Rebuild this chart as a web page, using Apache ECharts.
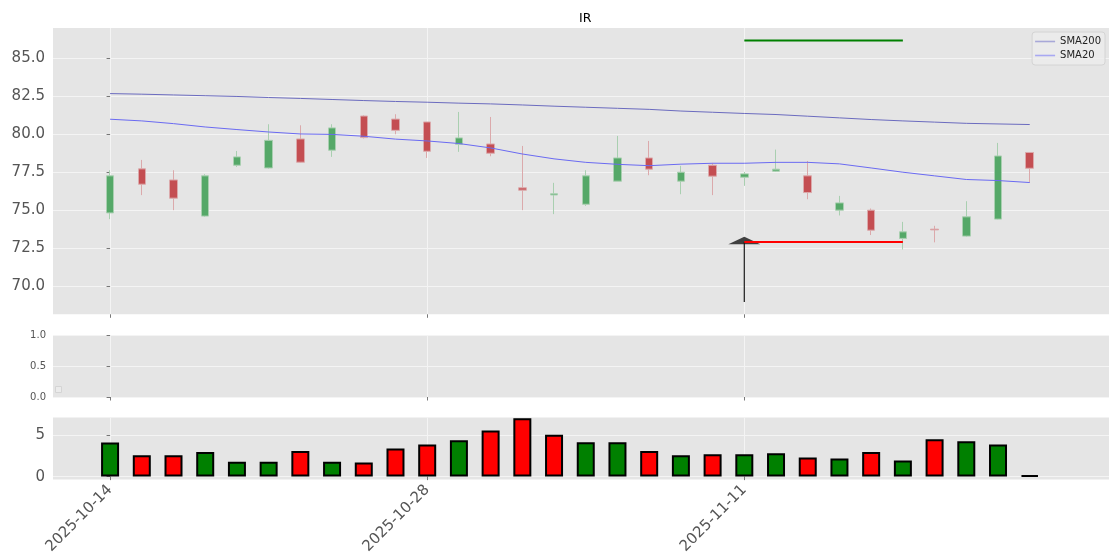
<!DOCTYPE html>
<html><head><meta charset="utf-8">
<script src="https://cdn.jsdelivr.net/npm/echarts@6/dist/echarts.min.js"></script>
<style>html,body{margin:0;padding:0;background:#fff}#c{width:1120px;height:560px}</style>
</head><body><div id="c"></div>
<script>
const dates = ['2025-10-14','2025-10-15','2025-10-16','2025-10-17','2025-10-20','2025-10-21','2025-10-22','2025-10-23','2025-10-24','2025-10-27',
  '2025-10-28','2025-10-29','2025-10-30','2025-10-31','2025-11-03','2025-11-04','2025-11-05','2025-11-06','2025-11-07','2025-11-10',
  '2025-11-11','2025-11-12','2025-11-13','2025-11-14','2025-11-17','2025-11-18','2025-11-19','2025-11-20','2025-11-21','2025-11-24'];
const opens  = [74.82,77.72,76.99,74.61,77.96,77.78,79.69,78.95,81.20,81.00, 80.81,79.34,79.36,76.47,76.00,75.39,76.91,78.44,76.91,77.96, 77.17,77.57,77.26,75.00,75.00,73.14,73.75,73.29,74.41,78.80];
const closes = [77.26,76.71,75.79,77.26,78.51,79.60,78.16,80.42,79.78,80.26, 78.88,79.76,78.75,76.32,76.08,77.26,78.44,77.70,77.50,77.24, 77.39,77.70,76.16,75.48,73.68,73.57,73.70,74.56,78.57,77.76];
const lows   = [74.41,75.99,75.00,74.56,77.85,77.74,78.11,78.51,79.72,80.00, 78.44,78.84,78.55,75.00,74.74,75.28,76.91,77.30,76.05,75.99, 76.60,77.52,75.72,74.65,73.36,72.41,72.88,73.25,74.39,76.82];
const highs  = [77.63,78.31,77.63,77.37,78.90,80.66,80.59,80.66,81.25,81.32, 80.81,81.47,81.14,79.23,76.80,77.63,79.89,79.56,77.92,78.11, 77.52,78.99,78.24,75.94,75.11,74.23,73.97,75.59,79.43,78.80];
const sma200 = [82.68,82.64,82.59,82.54,82.49,82.42,82.36,82.29,82.22,82.16, 82.11,82.05,82.00,81.93,81.85,81.78,81.71,81.64,81.53,81.45, 81.37,81.30,81.19,81.08,80.97,80.88,80.80,80.72,80.68,80.64];
const sma20  = [80.99,80.88,80.70,80.48,80.31,80.15,80.02,79.99,79.87,79.68, 79.56,79.39,79.10,78.70,78.38,78.15,78.02,77.93,78.03,78.09, 78.09,78.15,78.15,78.05,77.78,77.50,77.26,77.02,76.95,76.82];
const volumes = [4.15,2.60,2.60,3.00,1.82,1.82,3.12,1.82,1.70,3.42, 3.90,4.43,5.60,7.08,5.08,4.16,4.16,3.12,2.60,2.72, 2.72,2.85,2.33,2.20,2.98,1.95,4.55,4.29,3.90,0.18];
const volUp = [1,0,0,1,1,1,0,1,0,0, 0,1,0,0,0,1,1,0,1,0, 1,1,0,1,0,1,0,1,1,0];
const xTicks = [0,10,20];
const priceTicks = [70,72.5,75,77.5,80,82.5,85];
const volTicks = [0,5];
const signalIdx = 20, targetEndIdx = 25;
const targetPrice = 86.18, stopPrice = 72.91, arrowFrom = 68.95;

const TXT = '#555555', FONT = 'DejaVu Sans';
const chart = echarts.init(document.getElementById('c'), null, {renderer:'canvas'});
const grids = [
  {left:53, top:28, width:1056, height:286.3},
  {left:53, top:335, width:1056, height:62},
  {left:53, top:417.5, width:1056, height:62}
].map(g => Object.assign(g, {show:true, backgroundColor:'#e5e5e5', borderWidth:0, containLabel:false}));

function xAxis(i, labels){
  return {type:'value', gridIndex:i, min:-1.8, max:31.5,
    axisLine:{show:false},
    axisTick:{show:true, customValues:xTicks, length:3.5, lineStyle:{color:TXT, width:0.8}},
    axisLabel:{show:labels, customValues:xTicks, rotate:45, fontSize:15, color:TXT, fontFamily:FONT, margin:8,
      formatter:v => dates[Math.round(v)] || ''},
    splitLine:{show:true, lineStyle:{color:'#f4f4f4', width:1}}};
}
const option = {
  animation:false,
  backgroundColor:'#ffffff',
  title:{text:'IR', left:574, top:7, textStyle:{fontSize:12.5, fontWeight:'normal', color:'#000', fontFamily:FONT}},
  legend:{data:[{name:'SMA200', itemStyle:{color:'#a8a8d8'}}, {name:'SMA20', itemStyle:{color:'#a8a8f2'}}],
    orient:'vertical', right:15, top:32, icon:'rect', itemWidth:20, itemHeight:1.6, itemGap:3,
    backgroundColor:'rgba(236,236,236,0.8)', borderColor:'#d4d4d4', borderWidth:1, borderRadius:3, padding:[4,4,4,3],
    textStyle:{fontSize:10, color:'#222', fontFamily:FONT, lineHeight:11}},
  grid:grids,
  xAxis:[xAxis(0,false), xAxis(1,false), xAxis(2,true)],
  yAxis:[
    {type:'value', gridIndex:0, min:68.14, max:87.0, axisLine:{show:false},
     axisTick:{show:true, customValues:priceTicks, length:3.5, lineStyle:{color:TXT, width:0.8}},
     axisLabel:{customValues:priceTicks, fontSize:15, color:TXT, fontFamily:FONT, margin:8, formatter:v=>v.toFixed(1)},
     splitLine:{show:true, lineStyle:{color:'#f4f4f4', width:1}}},
    {type:'value', gridIndex:1, min:0, max:1, interval:0.5, axisLine:{show:false},
     axisTick:{show:true, length:3.5, lineStyle:{color:TXT, width:0.8}},
     axisLabel:{fontSize:10, color:TXT, fontFamily:FONT, margin:7, formatter:v=>v.toFixed(1)},
     splitLine:{show:true, lineStyle:{color:'#f4f4f4', width:1}}},
    {type:'value', gridIndex:2, min:-0.35, max:7.18, axisLine:{show:false},
     axisTick:{show:true, customValues:volTicks, length:3.5, lineStyle:{color:TXT, width:0.8}},
     axisLabel:{customValues:volTicks, fontSize:15, color:TXT, fontFamily:FONT, margin:8},
     splitLine:{show:true, lineStyle:{color:'#f4f4f4', width:1}}}
  ],
  graphic:[{type:'rect', shape:{x:55.5, y:386.5, width:6, height:6}, style:{fill:'rgba(236,236,236,0.8)', stroke:'#d4d4d4', lineWidth:1}, z:10}],
  series:[
    {type:'candlestick', name:'price', xAxisIndex:0, yAxisIndex:0, barWidth:8,
     encode:{x:0, y:[1,2,3,4]},
     data:dates.map((d,i)=>[i, opens[i], closes[i], lows[i], highs[i]]),
     itemStyle:{color:'#55a868', color0:'#c44e52', borderColor:'#a9cfb0', borderColor0:'#dba9ab', borderWidth:1}, z:3},
    {type:'line', name:'SMA200', xAxisIndex:0, yAxisIndex:0, symbol:'none', silent:true,
     data:sma200.map((v,i)=>[i,v]), lineStyle:{color:'#6b6bbf', width:1}, itemStyle:{color:'#a8a8d8'}, z:4},
    {type:'line', name:'SMA20', xAxisIndex:0, yAxisIndex:0, symbol:'none', silent:true,
     data:sma20.map((v,i)=>[i,v]), lineStyle:{color:'#6a6af2', width:1}, itemStyle:{color:'#a8a8f2'}, z:4},
    {type:'line', name:'target', xAxisIndex:0, yAxisIndex:0, symbol:'none', silent:true,
     data:[[signalIdx,targetPrice],[targetEndIdx,targetPrice]], lineStyle:{color:'#008000', width:2}, z:5},
    {type:'line', name:'shaft', xAxisIndex:0, yAxisIndex:0, symbol:'none', silent:true,
     data:[[signalIdx,arrowFrom],[signalIdx,stopPrice]], lineStyle:{color:'#2a2a2a', width:1.3}, z:5},
    {type:'scatter', name:'head', xAxisIndex:0, yAxisIndex:0, symbol:'triangle', symbolSize:[32,7.5], symbolOffset:[0,-1.5], silent:true,
     data:[[signalIdx,stopPrice]], itemStyle:{color:'#151515'}, z:5},
    {type:'line', name:'stop', xAxisIndex:0, yAxisIndex:0, symbol:'none', silent:true,
     data:[[signalIdx,stopPrice],[targetEndIdx,stopPrice]], lineStyle:{color:'#ff0000', width:2}, z:6},
    {type:'bar', name:'volume', xAxisIndex:2, yAxisIndex:2, barWidth:18,
     data:volumes.map((v,i)=>({value:[i,v], itemStyle:{color: volUp[i] ? '#008000' : '#ff0000'}})),
     itemStyle:{borderColor:'#000', borderWidth:2}, z:3}
  ]
};
chart.setOption(option);
</script></body></html>
